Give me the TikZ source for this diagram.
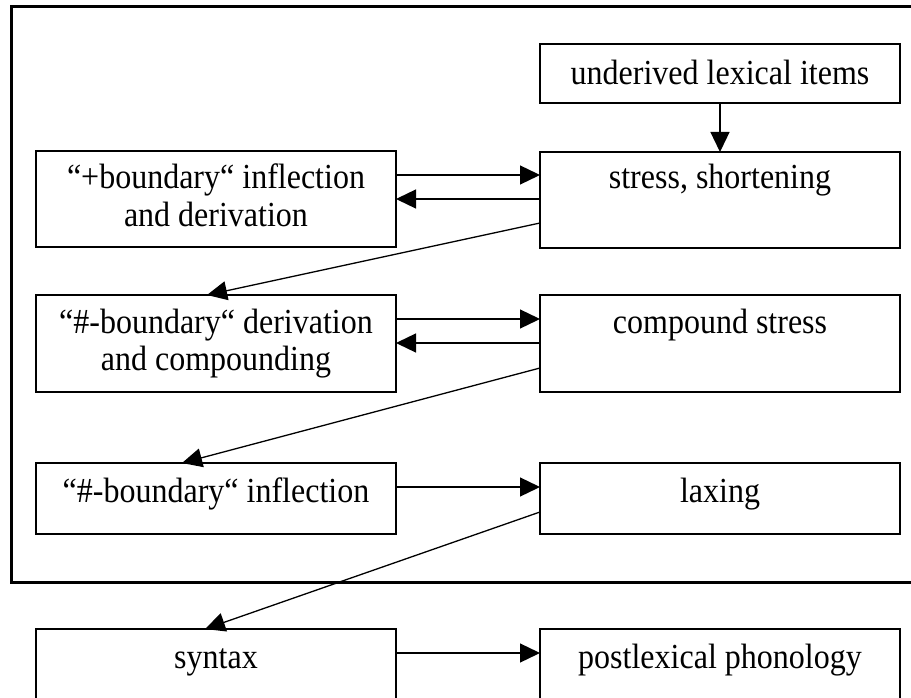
\documentclass[tikz,border=0pt]{standalone}
\usepackage{graphicx}
\usepackage{fontspec}
\setmainfont{Liberation Serif}
\usetikzlibrary{arrows.meta}
\newcommand\stretchtxt[1]{\scalebox{1}[1.1]{#1}}
\begin{document}
\begin{tikzpicture}[x=1pt,y=-1pt,
  box/.style={draw, line width=1.6pt, minimum width=360pt, inner sep=0pt, outer sep=0pt, anchor=north west},
  lbl/.style={font=\fontsize{32}{37}\selectfont, inner sep=0pt, anchor=base},
  arr/.style={line width=1.3pt, -{Triangle[length=20pt,width=19pt]}},
  frameline/.style={line width=3pt, line join=miter}]
\useasboundingbox (0,0) rectangle (911,698);
% outer frame (lexicon)
\draw[frameline] (920,7) -- (11,7) -- (11,582) -- (920,582);
% boxes
\node[box, minimum height=59pt] (und) at (540,44) {};
\node[box, minimum height=96pt] (ss) at (540,152) {};
\node[box, minimum height=96pt] (pb) at (36,151) {};
\node[box, minimum height=97pt] (hd) at (36,295) {};
\node[box, minimum height=97pt] (cs) at (540,295) {};
\node[box, minimum height=71pt] (hi) at (36,463) {};
\node[box, minimum height=71pt] (lx) at (540,463) {};
\node[box, minimum height=71pt] (sy) at (36,629) {};
\node[box, minimum height=71pt] (pl) at (540,629) {};
% labels
\node[lbl] (undt) at (720,85) {\stretchtxt{underived lexical items}};
\node[lbl] (sst) at (720,189) {\stretchtxt{stress, shortening}};
\node[lbl] (pbt1) at (216,189) {\stretchtxt{“+boundary“ inflection}};
\node[lbl] (pbt2) at (216,226) {\stretchtxt{and derivation}};
\node[lbl] (hdt1) at (216,333) {\stretchtxt{“\#-boundary“ derivation}};
\node[lbl] (hdt2) at (216,370) {\stretchtxt{and compounding}};
\node[lbl] (cst) at (720,333) {\stretchtxt{compound stress}};
\node[lbl] (hit) at (216,502) {\stretchtxt{“\#-boundary“ inflection}};
\node[lbl] (lxt) at (720,502) {\stretchtxt{laxing}};
\node[lbl] (syt) at (216,668) {\stretchtxt{syntax}};
\node[lbl] (plt) at (720,668) {\stretchtxt{postlexical phonology}};
% connectors
\draw[arr] (und.south) -- (ss.north);
\draw[arr] (pb.east |- 0,175) -- (ss.west |- 0,175);
\draw[arr] (ss.west |- 0,199) -- (pb.east |- 0,199);
\draw[arr] (ss.west |- 0,223) -- (hd.north west -| 207,0);
\draw[arr] (hd.east |- 0,319) -- (cs.west |- 0,319);
\draw[arr] (cs.west |- 0,343) -- (hd.east |- 0,343);
\draw[arr] (cs.west |- 0,368) -- (hi.north west -| 182,0);
\draw[arr] (hi.east |- 0,487) -- (lx.west |- 0,487);
\draw[arr] (lx.west |- 0,512) -- (sy.north west -| 205,0);
\draw[arr] (sy.east |- 0,653) -- (pl.west |- 0,653);
\end{tikzpicture}
\end{document}
